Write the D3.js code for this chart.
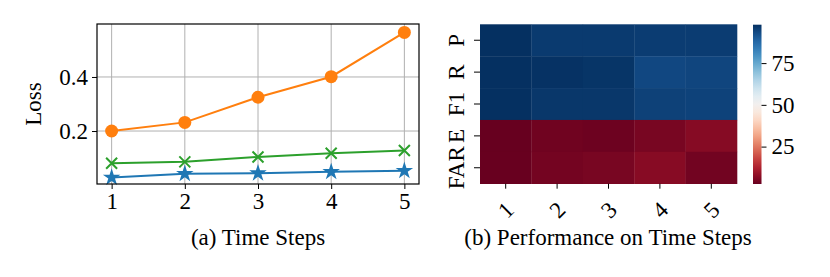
<!DOCTYPE html>
<html lang="en">
<head>
<meta charset="UTF-8">
<title>Time Steps</title>
<script src="https://d3js.org/d3.v7.min.js"></script>
<style>
  body { margin: 0; background: #fff; }
  svg { display: block; font-family: "Liberation Serif", "Times New Roman", serif; }
  .grid line { stroke: #b0b0b0; stroke-width: 1; }
</style>
</head>
<body>
<div id="chart"></div>
<script>
// ---- data ----
const steps = [1, 2, 3, 4, 5];
const lossOrange = [0.200, 0.232, 0.325, 0.401, 0.565];
const lossGreen  = [0.081, 0.086, 0.104, 0.118, 0.128];
const lossBlue   = [0.028, 0.042, 0.044, 0.049, 0.053];
const lossTicks = [0.2, 0.4];

const metrics = ["P", "R", "F1", "E", "FAR"];
const perf = [
  [98.0, 96.2, 96.2, 95.8, 95.8],   // P
  [98.0, 97.6, 97.2, 93.9, 94.3],   // R
  [98.0, 96.8, 96.8, 95.0, 94.8],   // F1
  [2.6, 3.7, 3.4, 4.8, 6.6],        // E
  [2.7, 4.3, 4.8, 6.7, 4.0]         // FAR
];
const cbarTicks = [25, 50, 75];

const W = 830, H = 277;
const FONT = "Liberation Serif";
const svg = d3.select("#chart").append("svg").attr("width", W).attr("height", H);

// ---- (a) line chart ----
const x = d3.scaleLinear().domain([0.8, 5.2]).range([97, 419]);
const y = d3.scaleLinear().domain([0.004, 0.596]).range([184, 24]);

const grid = svg.append("g").attr("class", "grid");
grid.selectAll(".gx").data(steps).join("line")
  .attr("x1", d => x(d)).attr("x2", d => x(d)).attr("y1", 24).attr("y2", 184);
grid.selectAll(".gy").data(lossTicks).join("line")
  .attr("x1", 97).attr("x2", 419).attr("y1", d => y(d)).attr("y2", d => y(d));

const xAxis = svg.append("g").attr("transform", "translate(0,184)")
  .call(d3.axisBottom(x).tickValues(steps).tickFormat(d3.format("d")).tickSize(5).tickPadding(4));
const yAxis = svg.append("g").attr("transform", "translate(97,0)")
  .call(d3.axisLeft(y).tickValues(lossTicks).tickFormat(d3.format(".1f")).tickSize(5).tickPadding(4));
[xAxis, yAxis].forEach(g => {
  g.select(".domain").remove();
  g.selectAll("line").attr("stroke", "#000").attr("stroke-width", 1);
  g.selectAll("text").attr("font-size", 23).attr("fill", "#000").style("font-family", FONT);
});

const line = d3.line().x((d, i) => x(steps[i])).y(d => y(d));
const series = [
  { vals: lossBlue, color: "#1f77b4", marker: "star" },
  { vals: lossGreen, color: "#2ca02c", marker: "x" },
  { vals: lossOrange, color: "#ff7f0e", marker: "circle" }
];
series.forEach(s => {
  svg.append("path").datum(s.vals).attr("d", line)
    .attr("fill", "none").attr("stroke", s.color).attr("stroke-width", 2);
  const g = svg.append("g");
  s.vals.forEach((v, i) => {
    const cx = x(steps[i]), cy = y(v);
    if (s.marker === "circle") {
      g.append("circle").attr("cx", cx).attr("cy", cy).attr("r", 6.5).attr("fill", s.color);
    } else if (s.marker === "x") {
      const r = 5.5;
      g.append("path").attr("d", `M${cx - r},${cy - r}L${cx + r},${cy + r}M${cx - r},${cy + r}L${cx + r},${cy - r}`)
        .attr("stroke", s.color).attr("stroke-width", 2);
    } else {
      g.append("path").attr("d", d3.symbol(d3.symbolStar, 95)())
        .attr("transform", `translate(${cx},${cy})`).attr("fill", s.color);
    }
  });
});

svg.append("rect").attr("x", 97).attr("y", 24).attr("width", 322).attr("height", 160)
  .attr("fill", "none").attr("stroke", "#000").attr("stroke-width", 1.2);

svg.append("text").attr("transform", "translate(41,104) rotate(-90)")
  .attr("text-anchor", "middle").attr("font-size", 23).text("Loss");
svg.append("text").attr("x", 258).attr("y", 245)
  .attr("text-anchor", "middle").attr("font-size", 23).text("(a) Time Steps");

// ---- (b) heatmap ----
const hx = d3.scaleBand().domain(steps).range([480, 737]);
const hy = d3.scaleBand().domain(metrics).range([24.3, 183.7]);
const color = d3.scaleSequential(d3.interpolateRdBu).domain([2.6, 98]);

const cells = [];
perf.forEach((row, r) => row.forEach((v, c) => cells.push({ m: metrics[r], s: steps[c], v })));
svg.append("g").selectAll("rect").data(cells).join("rect")
  .attr("x", d => hx(d.s)).attr("y", d => hy(d.m))
  .attr("width", hx.bandwidth() + 0.3).attr("height", hy.bandwidth() + 0.3)
  .attr("fill", d => color(d.v));

const hxAxis = svg.append("g").attr("transform", "translate(0,183.7)")
  .call(d3.axisBottom(hx).tickSize(5).tickPadding(4));
hxAxis.selectAll("text")
  .attr("text-anchor", "middle")
  .attr("x", 0).attr("y", 0).attr("dy", "0.35em")
  .attr("transform", "translate(0,26) rotate(-45)");
const hyAxis = svg.append("g").attr("transform", "translate(480,0)")
  .call(d3.axisLeft(hy).tickSize(6).tickPadding(4));
hyAxis.selectAll("text")
  .attr("text-anchor", "middle")
  .attr("x", 0).attr("y", 0).attr("dy", "0.35em")
  .attr("transform", "translate(-24,0) rotate(-90)");
[hxAxis, hyAxis].forEach(g => {
  g.select(".domain").remove();
  g.selectAll("line").attr("stroke", "#000").attr("stroke-width", 1);
  g.selectAll("text").attr("font-size", 23).attr("fill", "#000").style("font-family", FONT);
});

// colorbar
const cbY = d3.scaleLinear().domain([2.6, 98]).range([184, 24.7]);
const grad = svg.append("defs").append("linearGradient").attr("id", "cbar")
  .attr("x1", 0).attr("y1", 1).attr("x2", 0).attr("y2", 0);
d3.range(0, 1.0001, 0.05).forEach(t => {
  grad.append("stop").attr("offset", t).attr("stop-color", d3.interpolateRdBu(t));
});
svg.append("rect").attr("x", 753).attr("y", 24.7).attr("width", 8.5).attr("height", 159.3)
  .attr("fill", "url(#cbar)");
const cbAxis = svg.append("g").attr("transform", "translate(761.5,0)")
  .call(d3.axisRight(cbY).tickValues(cbarTicks).tickSize(5).tickPadding(5));
cbAxis.select(".domain").remove();
cbAxis.selectAll("line").attr("stroke", "#000").attr("stroke-width", 1);
cbAxis.selectAll("text").attr("font-size", 23).attr("fill", "#000").style("font-family", FONT);

svg.append("text").attr("x", 608).attr("y", 245)
  .attr("text-anchor", "middle").attr("font-size", 23).text("(b) Performance on Time Steps");
</script>
</body>
</html>
